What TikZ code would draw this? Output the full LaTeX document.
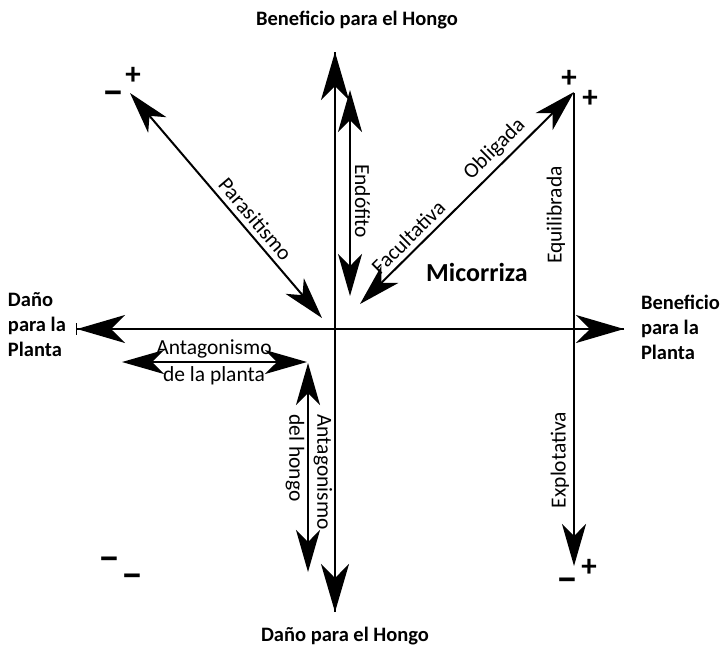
\documentclass[tikz,border=0pt]{standalone}
\usepackage{fontspec}
\setmainfont{Carlito}
\usetikzlibrary{arrows.meta}

\begin{document}
\begin{tikzpicture}[x=1pt,y=-1pt,
  line width=2pt,
  bigtip/.tip={Stealth[length=48pt,width=28pt,inset=14pt]},
  midtip/.tip={Stealth[length=42pt,width=24pt,inset=12pt]},
  axislbl/.style={font=\bfseries\fontsize{20.5}{25}\selectfont, inner sep=0pt},
  rellbl/.style={font=\fontsize{21.5}{25}\selectfont, inner sep=1pt},
  plussign/.style={font=\bfseries\fontsize{31}{31}\selectfont, inner sep=0pt},
  minussign/.style={font=\bfseries\fontsize{40}{40}\selectfont, inner sep=0pt}]

\path[use as bounding box] (0,0) rectangle (722,649);

% main axes
\coordinate (top) at (335,52);
\coordinate (bot) at (335,612);
\coordinate (lft) at (77,329);
\coordinate (rgt) at (624,329);
\draw[-bigtip] (bot) -- (top);
\draw[-bigtip] (top) -- (bot);
\draw[-bigtip] (rgt) -- (lft);
\draw[-bigtip] (lft) -- (rgt);
\draw[line width=1pt] (76,323) -- (76,335);

% relationship arrows
\coordinate (par1) at (130,93);
\coordinate (par2) at (322,318);
\draw[midtip-midtip] (par1) -- node[rellbl, above=4pt, sloped, pos=0.6] {Parasitismo} (par2);

\coordinate (end1) at (350,90);
\coordinate (end2) at (350,296);
\draw[midtip-midtip] (end1) -- node[rellbl, above=3pt, sloped, pos=0.54] {Endófito} (end2);

\coordinate (fac1) at (360,304);
\coordinate (fac2) at (574,92);
\draw[midtip-midtip] (fac1) --
  node[rellbl, above=4pt, sloped, pos=0.27] {Facultativa}
  node[rellbl, above=4pt, sloped, pos=0.68] {Obligada} (fac2);

\coordinate (eq1) at (574,93);
\coordinate (eq2) at (574,566);
\draw[-midtip] (eq1) -- (eq2);
\node[rellbl, rotate=90] (equi) at (556,215) {Equilibrada};
\node[rellbl, rotate=90] (expl) at (560,460) {Explotativa};

\coordinate (ap1) at (122,362);
\coordinate (ap2) at (307,362);
\draw[midtip-midtip] (ap1) -- (ap2);
\node[rellbl, align=center] (antp) at (214,362) {Antagonismo\\[2pt]de la planta};

\coordinate (ah1) at (308,363);
\coordinate (ah2) at (308,572);
\draw[midtip-midtip] (ah1) -- (ah2);
\node[rellbl, align=left, rotate=-90] (anth) at (309,472) {Antagonismo\\[3pt]del hongo};

\node[font=\bfseries\fontsize{26}{30}\selectfont] (mic) at (477,272) {Micorriza};

% axis labels
\node[axislbl] (bh) at (357,20) {Beneficio para el Hongo};
\node[axislbl] (dh) at (345,636) {Daño para el Hongo};
\node[axislbl, align=left, anchor=west] (dp) at (7,325) {Daño\\para la\\Planta};
\node[axislbl, align=left, anchor=west] (bp) at (640,327) {Beneficio\\para la\\Planta};

% signs at the corners
\node[minussign] (s1) at (113,98) {−};
\node[plussign] (s2) at (133,76) {+};
\node[plussign] (s3) at (569,79) {+};
\node[plussign] (s4) at (590,99) {+};
\node[minussign] (s5) at (109,564) {−};
\node[minussign] (s6) at (132,581) {−};
\node[minussign] (s7) at (567,585) {−};
\node[plussign] (s8) at (589,568) {+};
\end{tikzpicture}
\end{document}
